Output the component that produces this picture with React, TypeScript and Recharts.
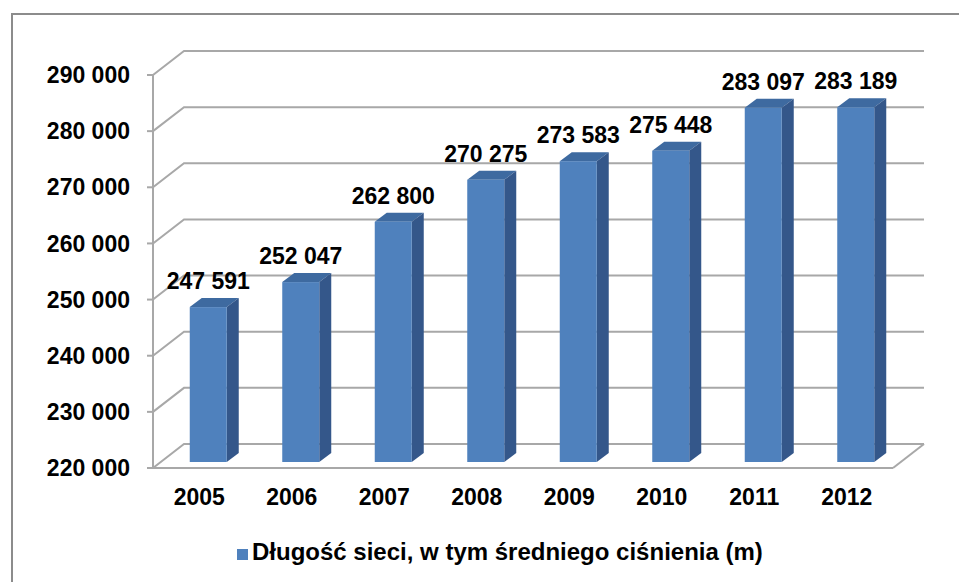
import React from "react";
import {
  Bar,
  BarChart,
  CartesianGrid,
  LabelList,
  Legend,
  ReferenceLine,
  XAxis,
  YAxis,
} from "recharts";

const years = ["2005", "2006", "2007", "2008", "2009", "2010", "2011", "2012"];
const lengths = [247591, 252047, 262800, 270275, 273583, 275448, 283097, 283189];
const yTicks = [220000, 230000, 240000, 250000, 260000, 270000, 280000, 290000];
const seriesName = "Długość sieci, w tym średniego ciśnienia (m)";

const data = years.map((year, i) => ({ year, value: lengths[i] }));

// oblique depth of the back wall and of the bars
const DX = 31;
const DY = -24;
const FX = 9; // bar front face offset (sits a bit into the floor)
const FY = -6;
const SX = 12; // bar depth
const SY = -9;

const FONT = "'Liberation Sans', Arial, sans-serif";
const GRID = "#a8a8a8";

const fmt = (v: number) => String(v).replace(/\B(?=(\d{3})+(?!\d))/g, " ");

function Bar3D(props: any) {
  const { x, y, width, height } = props;
  const fx = x + FX;
  const fy = y + FY;
  return (
    <g>
      <polygon
        points={`${fx},${fy} ${fx + SX},${fy + SY} ${fx + width + SX},${fy + SY} ${fx + width},${fy}`}
        fill="#3e6aa0"
      />
      <polygon
        points={`${fx + width},${fy} ${fx + width + SX},${fy + SY} ${fx + width + SX},${fy + height + SY} ${fx + width},${fy + height}`}
        fill="#34578a"
      />
      <rect x={fx} y={fy} width={width} height={height} fill="#4f81bd" />
    </g>
  );
}

function BarLabel(props: any) {
  const { x, y, width, value } = props;
  return (
    <text
      x={x + FX + width / 2}
      y={y + FY + SY - 9}
      textAnchor="middle"
      fontFamily={FONT}
      fontWeight="bold"
      fontSize={23}
      fill="#000"
    >
      {fmt(value)}
    </text>
  );
}

function XTick(props: any) {
  const { x, y, payload } = props;
  return (
    <text
      x={x}
      y={y + 35}
      textAnchor="middle"
      fontFamily={FONT}
      fontWeight="bold"
      fontSize={23}
      fill="#000"
    >
      {payload.value}
    </text>
  );
}

function gridLine(props: any) {
  const { x1, y1, x2 } = props;
  return (
    <path
      key={`g-${y1}`}
      d={`M${x1},${y1} L${x1 + DX},${y1 + DY} L${x2 + DX},${y1 + DY}`}
      fill="none"
      stroke={GRID}
      strokeWidth={2}
    />
  );
}

function floorEdge(props: any) {
  const { x2, y1 } = props;
  return (
    <path
      d={`M${x2},${y1} L${x2 + DX},${y1 + DY}`}
      fill="none"
      stroke={GRID}
      strokeWidth={2}
    />
  );
}

function LegendBox() {
  return (
    <div
      style={{
        height: 60,
        display: "flex",
        alignItems: "center",
        justifyContent: "flex-start",
        paddingLeft: 237,
        fontFamily: FONT,
        fontWeight: "bold",
        fontSize: 24,
        color: "#000",
      }}
    >
      <span
        style={{
          display: "inline-block",
          width: 11,
          height: 11,
          background: "#4f81bd",
          marginRight: 4,
          marginTop: 4,
        }}
      />
      {seriesName}
    </div>
  );
}

export default function App() {
  return (
    <div
      style={{
        position: "absolute",
        left: 0,
        top: 0,
        width: 959,
        height: 582,
        background: "#fff",
        overflow: "hidden",
      }}
    >
      <div
        style={{
          position: "absolute",
          left: 11,
          top: 13,
          width: 980,
          height: 600,
          border: "2px solid #8c8c8c",
          boxSizing: "border-box",
        }}
      />
      <BarChart
        width={959}
        height={582}
        data={data}
        margin={{ top: 75, right: 66, left: 0, bottom: 0 }}
        barCategoryGap="30%"
      >
        <CartesianGrid vertical={false} horizontal={gridLine} />
        <XAxis
          dataKey="year"
          height={54}
          axisLine={{ stroke: GRID, strokeWidth: 2 }}
          tickLine={false}
          tickSize={0}
          tick={<XTick />}
          interval={0}
        />
        <YAxis
          width={153}
          domain={[220000, 290000]}
          ticks={yTicks}
          interval={0}
          tickFormatter={fmt}
          axisLine={{ stroke: GRID, strokeWidth: 2 }}
          tickLine={{ stroke: GRID, strokeWidth: 2 }}
          tickSize={6}
          tickMargin={17}
          tick={{ fontFamily: FONT, fontWeight: "bold", fontSize: 23, fill: "#000" }}
        />
        <ReferenceLine y={220000} shape={floorEdge} />
        <Legend verticalAlign="bottom" height={60} content={<LegendBox />} />
        <Bar
          dataKey="value"
          name={seriesName}
          shape={<Bar3D />}
          isAnimationActive={false}
        >
          <LabelList dataKey="value" content={<BarLabel />} />
        </Bar>
      </BarChart>
    </div>
  );
}
